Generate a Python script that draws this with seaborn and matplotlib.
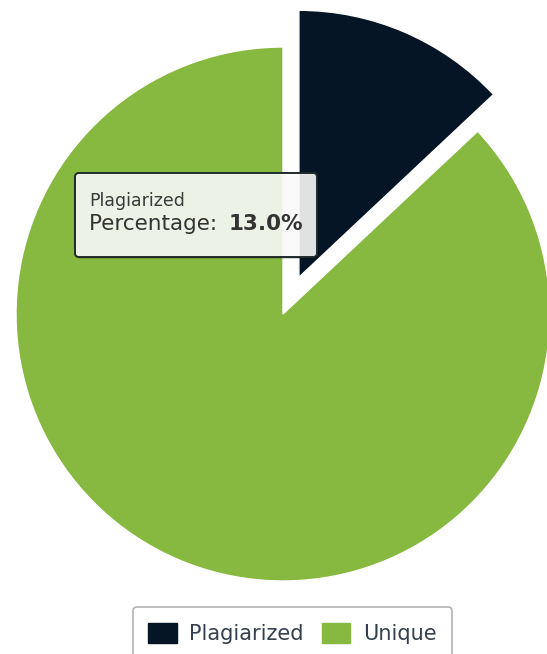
import matplotlib
matplotlib.use("Agg")
import matplotlib.pyplot as plt
import seaborn as sns
from matplotlib.patches import FancyBboxPatch, Patch

# ---- data ----
categories = ["Plagiarized", "Unique"]
values = [13.0, 87.0]
colors = ["#061526", "#87b940"]
tooltip_title = "Plagiarized"
tooltip_label = "Percentage: "
tooltip_value = "13.0%"

sns.set_theme(style="white")
plt.rcParams["font.family"] = ["DejaVu Sans"]

W, H = 547, 654
fig = plt.figure(figsize=(W / 100, H / 100), dpi=100)
ax = fig.add_axes([0, 0, 1, 1])

R = 267
wedges, _ = ax.pie(values, colors=colors, startangle=90, counterclock=False,
                   center=(283, H - 314), radius=R, explode=[40, 0],
                   wedgeprops=dict(linewidth=1, edgecolor="white"),
                   frame=True)
ax.set_xlim(0, W)
ax.set_ylim(0, H)
ax.set_aspect("equal")
ax.axis("off")

# ---- tooltip ----
bx, by, bw, bh = 75, H - 257, 242, 84
shadow = FancyBboxPatch((bx + 2, by - 2), bw, bh,
                        boxstyle="round,pad=0,rounding_size=4",
                        facecolor="black", alpha=0.18, edgecolor="none", zorder=4)
ax.add_patch(shadow)
box = FancyBboxPatch((bx, by), bw, bh, boxstyle="round,pad=0,rounding_size=4",
                     facecolor=(1, 1, 1, 0.88), edgecolor="#1f2a2a",
                     linewidth=1.4, zorder=5)
ax.add_patch(box)
ax.text(89, H - 206, tooltip_title, fontsize=12.5, color="#3a3a3a",
        ha="left", va="baseline", zorder=6)
t1 = ax.text(89, H - 230, tooltip_label, fontsize=15.5, color="#333333",
             ha="left", va="baseline", zorder=6)
ax.annotate(tooltip_value, xy=(1, 0), xycoords=t1, xytext=(3, 0),
            textcoords="offset points", fontsize=15.5, fontweight="bold",
            color="#333333", ha="left", va="bottom", zorder=6)

# ---- legend ----
handles = [Patch(facecolor=c, edgecolor=c, label=l) for c, l in zip(colors, categories)]
leg = ax.legend(handles=handles, loc="upper center",
                bbox_to_anchor=(0.5 * (133 + 452) / W, 1 - 607 / H),
                ncol=2, fontsize=15, frameon=True, fancybox=True,
                handlelength=1.35, handleheight=1.15, handletextpad=0.6,
                columnspacing=0.9, borderpad=0.75, borderaxespad=0)
leg.get_frame().set_edgecolor("#a0a0a0")
leg.get_frame().set_linewidth(1.2)
for t in leg.get_texts():
    t.set_color("#34404e")

fig.savefig("out.png", dpi=100)
